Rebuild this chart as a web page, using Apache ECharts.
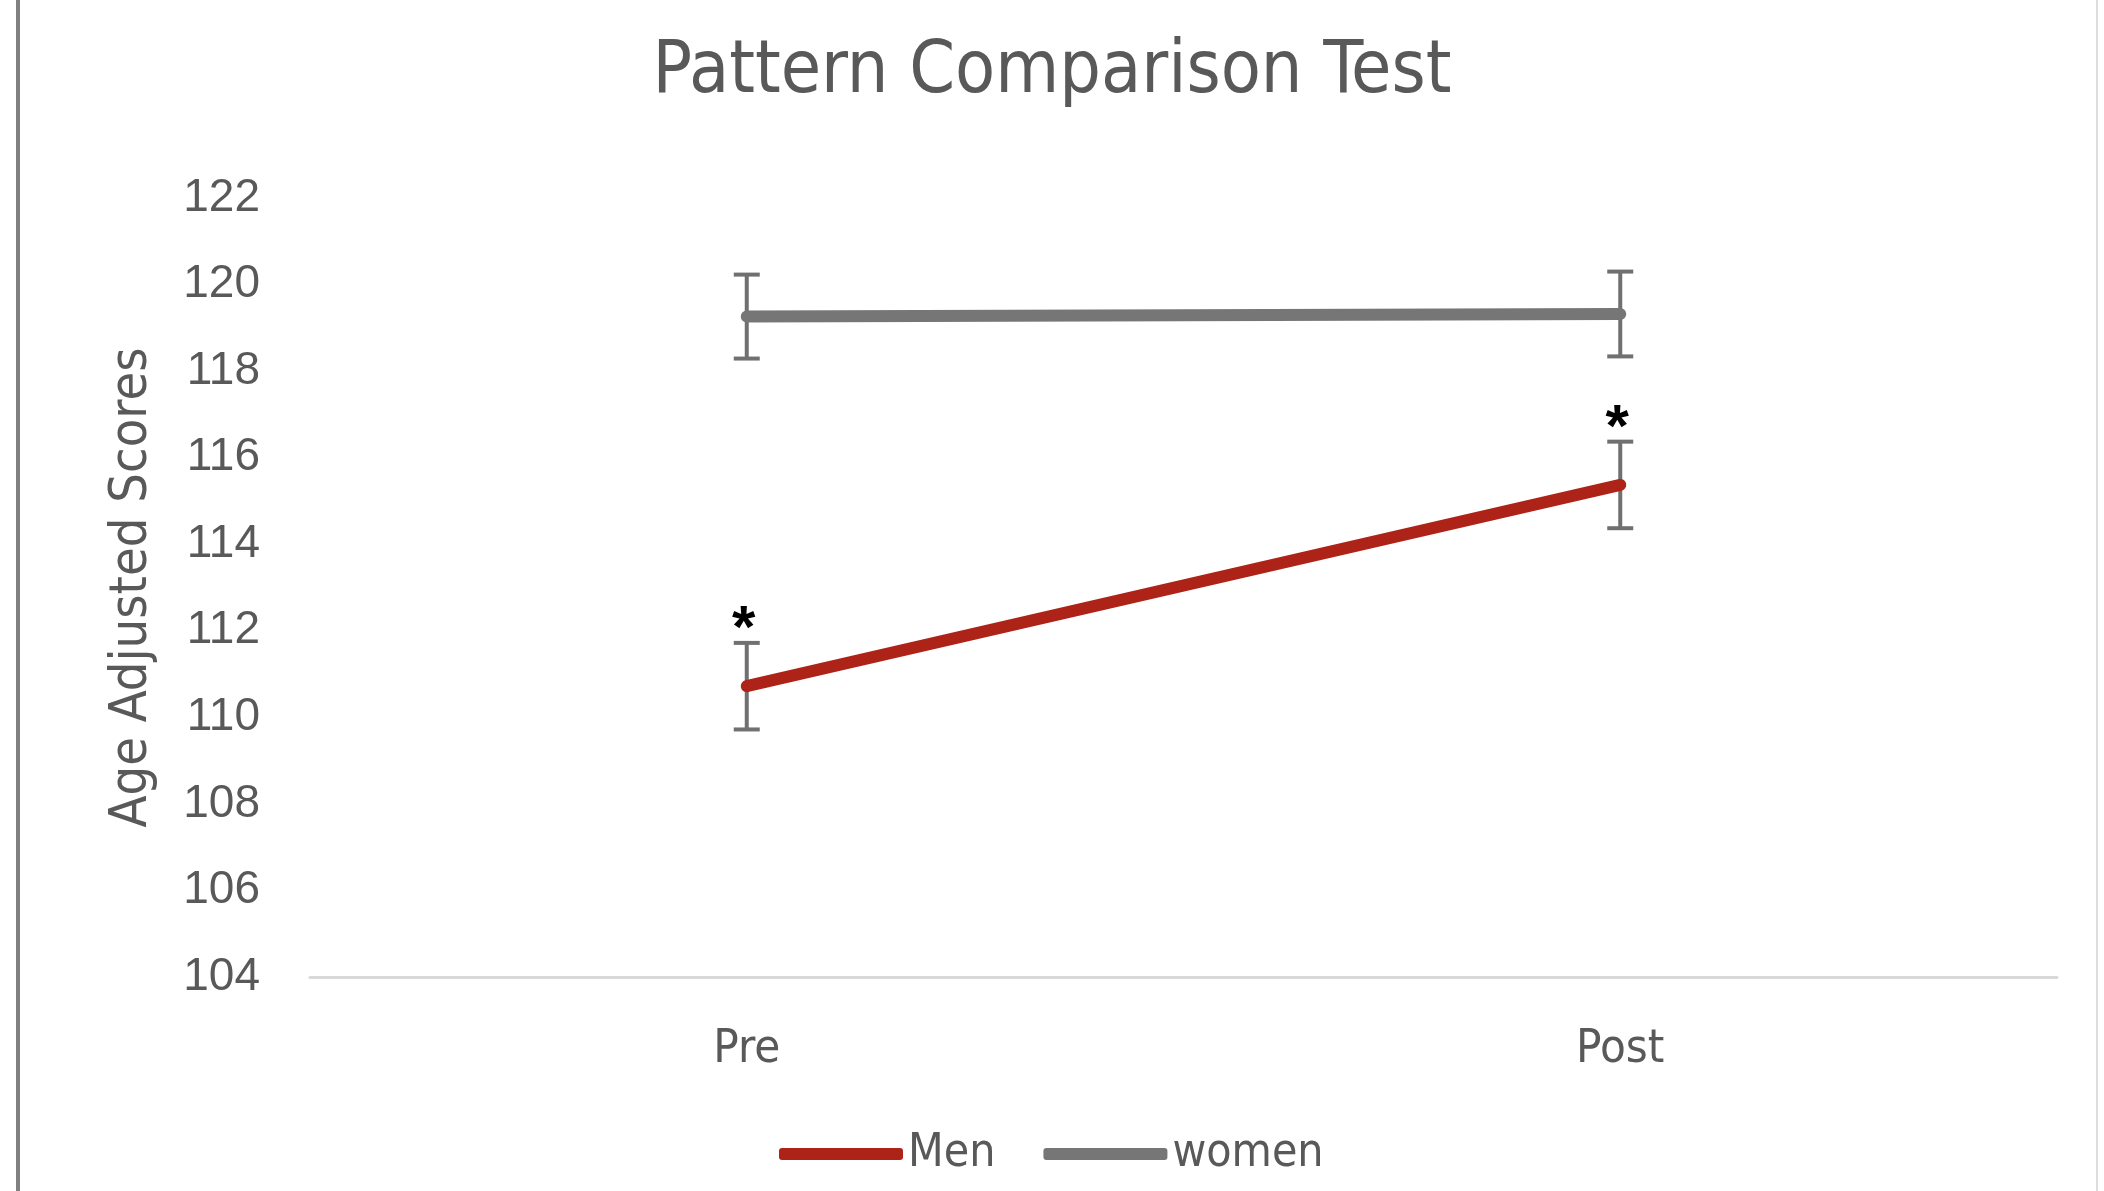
<!DOCTYPE html>
<html>
<head>
<meta charset="utf-8">
<script src="https://cdn.jsdelivr.net/npm/echarts@6/dist/echarts.min.js"></script>
<style>
html,body{margin:0;padding:0;background:#fff;}
#chart{width:2104px;height:1191px;}
</style>
</head>
<body>
<div id="chart"></div>
<script>
const categories = ['Pre', 'Post'];
const menValues = [110.72, 115.37];
const womenValues = [119.26, 119.32];
const menErrors = [1.0, 1.0];
const womenErrors = [0.97, 0.98];
const menMarks = ['*', '*'];
const womenMarks = ['', ''];
const yTicks = { min: 104, max: 122, interval: 2 };

const condensed = "'Liberation Sans Narrow', 'DejaVu Sans Condensed', 'Roboto Condensed', sans-serif";
const textGray = '#595959';
const menColor = '#AE2318';
const womenColor = '#767676';
const errColor = '#707070';

function errData(vals, errs, marks) {
  return vals.map((v, i) => [i, v, errs[i], marks[i]]);
}

function renderErr(params, api) {
  const x = api.value(0), v = api.value(1), e = api.value(2);
  const mark = api.value(3);
  const top = api.coord([x, v + e]);
  const bot = api.coord([x, v - e]);
  const hw = 13;
  const style = { stroke: errColor, lineWidth: 4 };
  const children = [
    { type: 'line', shape: { x1: top[0], y1: top[1], x2: bot[0], y2: bot[1] }, style },
    { type: 'line', shape: { x1: top[0] - hw, y1: top[1], x2: top[0] + hw, y2: top[1] }, style },
    { type: 'line', shape: { x1: bot[0] - hw, y1: bot[1], x2: bot[0] + hw, y2: bot[1] }, style }
  ];
  if (mark) {
    children.push({
      type: 'text',
      style: { text: mark, x: top[0] - 3, y: top[1] - 12, align: 'center', verticalAlign: 'middle',
               fill: '#000', font: "bold 60px 'Liberation Sans', Arial, sans-serif" }
    });
  }
  return { type: 'group', children };
}

const chart = echarts.init(document.getElementById('chart'), null, { renderer: 'canvas' });
chart.setOption({
  backgroundColor: '#ffffff',
  animation: false,
  title: {
    text: 'Pattern Comparison Test',
    left: 'center',
    top: 32,
    textStyle: { fontFamily: condensed, fontSize: 73, fontWeight: 'normal', color: textGray }
  },
  grid: { left: 310, right: 47, top: 198, bottom: 214, containLabel: false },
  legend: {
    data: [
      { name: 'Men', icon: 'roundRect' },
      { name: 'women', icon: 'roundRect' }
    ],
    left: 774,
    top: 1126,
    itemWidth: 124,
    itemHeight: 12,
    itemGap: 48,
    textStyle: { fontFamily: condensed, fontSize: 46, color: textGray, padding: [0, 0, 0, 0] }
  },
  xAxis: {
    type: 'category',
    data: categories,
    boundaryGap: true,
    axisLine: { show: true, lineStyle: { color: '#D9D9D9', width: 3 } },
    axisTick: { show: false },
    axisLabel: { fontFamily: condensed, fontSize: 47, color: textGray, margin: 49 },
    splitLine: { show: false }
  },
  yAxis: {
    type: 'value',
    min: yTicks.min,
    max: yTicks.max,
    interval: yTicks.interval,
    name: 'Age Adjusted Scores',
    nameLocation: 'middle',
    nameGap: 178,
    nameRotate: 90,
    nameTextStyle: { fontFamily: condensed, fontSize: 52, color: textGray, verticalAlign: 'middle' },
    axisLine: { show: false },
    axisTick: { show: false },
    splitLine: { show: false },
    axisLabel: { fontFamily: "'Liberation Sans', Arial, sans-serif", fontSize: 46, color: textGray, margin: 50, padding: [6, 0, 0, 0] }
  },
  graphic: [
    { type: 'rect', shape: { x: 16, y: 0, width: 4, height: 1191 }, style: { fill: '#808080' }, silent: true },
    { type: 'rect', shape: { x: 2096, y: 0, width: 2, height: 1191 }, style: { fill: '#DDDDDD' }, silent: true }
  ],
  series: [
    {
      name: 'Men err', type: 'custom', renderItem: renderErr, z: 1,
      data: errData(menValues, menErrors, menMarks), encode: { x: 0, y: 1 }
    },
    {
      name: 'women err', type: 'custom', renderItem: renderErr, z: 1,
      data: errData(womenValues, womenErrors, womenMarks), encode: { x: 0, y: 1 }
    },
    {
      name: 'Men', type: 'line', data: menValues, symbol: 'none', z: 3,
      color: menColor,
      lineStyle: { color: menColor, width: 12, cap: 'round' }
    },
    {
      name: 'women', type: 'line', data: womenValues, symbol: 'none', z: 3,
      color: womenColor,
      lineStyle: { color: womenColor, width: 12, cap: 'round' }
    }
  ]
});
</script>
</body>
</html>
